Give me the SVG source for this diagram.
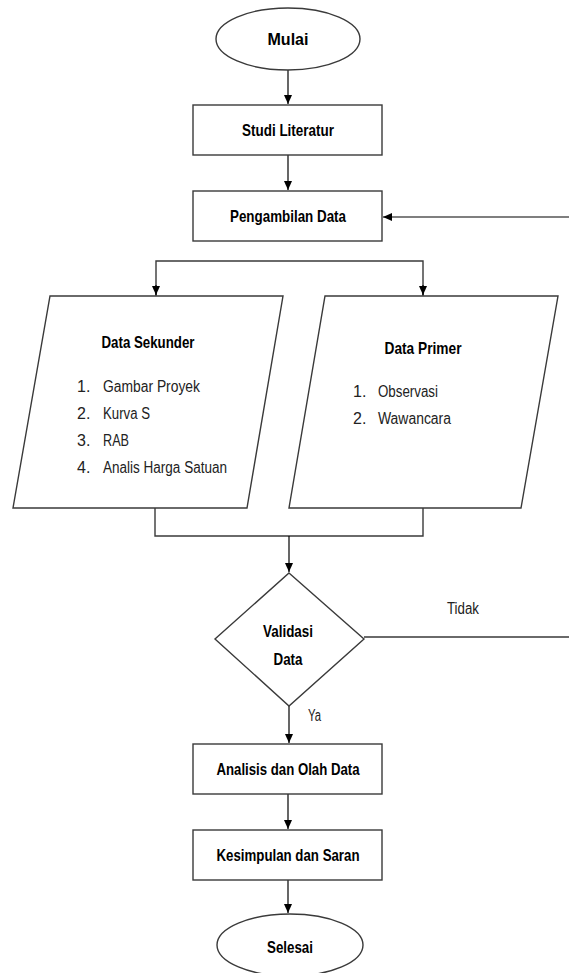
<svg xmlns="http://www.w3.org/2000/svg" width="569" height="973" viewBox="0 0 569 973">
<defs>
<marker id="arr" markerWidth="10" markerHeight="10" refX="9" refY="5" orient="auto" markerUnits="userSpaceOnUse">
<path d="M0,1 L9,5 L0,9 z" fill="#000"/>
</marker>
<style>
.shape{fill:#fff;stroke:#3a3a3a;stroke-width:1.4}
.conn{fill:none;stroke:#000;stroke-width:1.2}
.line{fill:none;stroke:#3a3a3a;stroke-width:1.4}
text{font-family:"Liberation Sans",Arial,sans-serif;font-size:16px;fill:#000}
.b{font-weight:bold;text-anchor:middle;font-size:16.5px}
.n{fill:#222}
</style>
</defs>
<rect width="569" height="973" fill="#fff"/>
<g id="connectors">
<path class="conn" d="M288,70 V104" marker-end="url(#arr)"/>
<path class="conn" d="M288,155 V190" marker-end="url(#arr)"/>
<path class="line" d="M156,296 V261 H423 V296"/>
<path class="conn" d="M156,285 V295" marker-end="url(#arr)"/>
<path class="conn" d="M423,285 V295" marker-end="url(#arr)"/>
<path class="line" d="M155,508 V536 H423 V508"/>
<path class="conn" d="M289,536 V572" marker-end="url(#arr)"/>
<path class="conn" d="M289,706 V743" marker-end="url(#arr)"/>
<path class="conn" d="M288,794 V829" marker-end="url(#arr)"/>
<path class="conn" d="M288,880 V913" marker-end="url(#arr)"/>
<path class="line" d="M364,637 H575 V217"/>
<path class="conn" d="M575,217 H383" marker-end="url(#arr)"/>
<text x="463" y="614" class="n" text-anchor="middle" textLength="32" lengthAdjust="spacingAndGlyphs">Tidak</text>
<text x="308" y="721" class="n" textLength="13" lengthAdjust="spacingAndGlyphs">Ya</text>
</g>
<g id="mulai">
<ellipse class="shape" cx="288" cy="39" rx="72" ry="31"/>
<text x="288" y="45" class="b" textLength="41" lengthAdjust="spacingAndGlyphs">Mulai</text>
</g>
<g id="studi-literatur">
<rect class="shape" x="193" y="105" width="189" height="50"/>
<text x="288" y="136" class="b" textLength="92" lengthAdjust="spacingAndGlyphs">Studi Literatur</text>
</g>
<g id="pengambilan-data">
<rect class="shape" x="193" y="191" width="189" height="50"/>
<text x="288" y="222" class="b" textLength="116" lengthAdjust="spacingAndGlyphs">Pengambilan Data</text>
</g>
<g id="data-sekunder">
<polygon class="shape" points="50,296 283,296 247,508 13,508"/>
<text x="148" y="348" class="b" textLength="93" lengthAdjust="spacingAndGlyphs">Data Sekunder</text>
<text x="77" y="392" class="n">1.</text>
<text x="103" y="392" class="n" textLength="97" lengthAdjust="spacingAndGlyphs">Gambar Proyek</text>
<text x="77" y="419" class="n">2.</text>
<text x="103" y="419" class="n" textLength="47" lengthAdjust="spacingAndGlyphs">Kurva S</text>
<text x="77" y="446" class="n">3.</text>
<text x="103" y="446" class="n" textLength="26" lengthAdjust="spacingAndGlyphs">RAB</text>
<text x="77" y="473" class="n">4.</text>
<text x="103" y="473" class="n" textLength="124" lengthAdjust="spacingAndGlyphs">Analis Harga Satuan</text>
</g>
<g id="data-primer">
<polygon class="shape" points="325,296 558,296 521,508 289,508"/>
<text x="423" y="354" class="b" textLength="77" lengthAdjust="spacingAndGlyphs">Data Primer</text>
<text x="353" y="397" class="n">1.</text>
<text x="378" y="397" class="n" textLength="60" lengthAdjust="spacingAndGlyphs">Observasi</text>
<text x="353" y="424" class="n">2.</text>
<text x="378" y="424" class="n" textLength="73" lengthAdjust="spacingAndGlyphs">Wawancara</text>
</g>
<g id="validasi-data">
<polygon class="shape" points="289,573 364,639 289,706 215,639"/>
<text x="288" y="637" class="b" textLength="50" lengthAdjust="spacingAndGlyphs">Validasi</text>
<text x="288" y="665" class="b" textLength="29" lengthAdjust="spacingAndGlyphs">Data</text>
</g>
<g id="analisis">
<rect class="shape" x="193" y="744" width="189" height="50"/>
<text x="288" y="775" class="b" textLength="143" lengthAdjust="spacingAndGlyphs">Analisis dan Olah Data</text>
</g>
<g id="kesimpulan">
<rect class="shape" x="193" y="830" width="189" height="50"/>
<text x="288" y="861" class="b" textLength="143" lengthAdjust="spacingAndGlyphs">Kesimpulan dan Saran</text>
</g>
<g id="selesai">
<ellipse class="shape" cx="290" cy="945" rx="73" ry="31"/>
<text x="290" y="953" class="b" textLength="46" lengthAdjust="spacingAndGlyphs">Selesai</text>
</g>
</svg>
